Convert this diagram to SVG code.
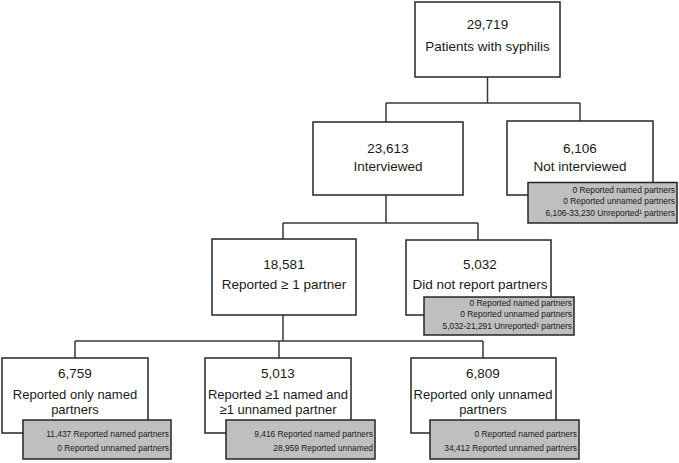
<svg xmlns="http://www.w3.org/2000/svg" width="679" height="463" viewBox="0 0 679 463">
<style>
.box{fill:#fff;stroke:#262626;stroke-width:1.5}
.grey{fill:#bfbfbf;stroke:#262626;stroke-width:1.5}
.ln{fill:none;stroke:#3a3a3a;stroke-width:1.5}
.t{font-family:"Liberation Sans",Arial,sans-serif;font-size:13.5px;fill:#1a1a1a;text-anchor:middle}
.b{font-size:13px}
.s{font-family:"Liberation Sans",Arial,sans-serif;font-size:8.4px;fill:#1a1a1a;text-anchor:end}
</style>
<rect width="679" height="463" fill="#fff"/>
<g id="connectors">
<path class="ln" d="M487.5,77V103M386,103H580M386,103V122M580,103V121"/>
<path class="ln" d="M386,195V223M283,223H478M283,223V239M478,223V240"/>
<path class="ln" d="M283,315V341M75,341H483M75,341V358M279,341V358M483,341V358"/>
</g>
<g id="n-total">
<rect class="box" x="415" y="2" width="145" height="75"/>
<text class="t" x="487.5" y="29">29,719</text>
<text class="t" x="487.5" y="51">Patients with syphilis</text>
</g>
<g id="n-interviewed">
<rect class="box" x="313" y="122" width="150" height="73"/>
<text class="t" x="388" y="153">23,613</text>
<text class="t" x="388" y="171">Interviewed</text>
</g>
<g id="n-not-interviewed">
<rect class="box" x="507" y="121" width="146" height="74"/>
<text class="t" x="580" y="153">6,106</text>
<text class="t" x="580" y="171">Not interviewed</text>
<rect class="grey" x="528" y="182.5" width="149" height="40.5"/>
<text class="s" x="675" y="193">0 Reported named partners</text>
<text class="s" x="675" y="204">0 Reported unnamed partners</text>
<text class="s" x="675" y="215.5">6,106-33,230 Unreported¹ partners</text>
</g>
<g id="n-reported">
<rect class="box" x="212" y="239" width="144" height="76"/>
<text class="t" x="284" y="269">18,581</text>
<text class="t" x="284" y="289">Reported ≥ 1 partner</text>
</g>
<g id="n-did-not-report">
<rect class="box" x="406" y="240" width="145" height="75"/>
<text class="t" x="480" y="269">5,032</text>
<text class="t" x="480" y="289">Did not report partners</text>
<rect class="grey" x="424" y="297" width="150" height="38"/>
<text class="s" x="572" y="305.5">0 Reported named partners</text>
<text class="s" x="572" y="317">0 Reported unnamed partners</text>
<text class="s" x="572" y="328.5">5,032-21,291 Unreported¹ partners</text>
</g>
<g id="n-only-named">
<rect class="box" x="2" y="358" width="146" height="75"/>
<text class="t" x="75" y="378">6,759</text>
<text class="t b" x="75" y="399">Reported only named</text>
<text class="t b" x="75" y="414">partners</text>
<rect class="grey" x="23" y="420" width="148" height="39"/>
<text class="s" x="169" y="436.5">11,437 Reported named partners</text>
<text class="s" x="169" y="451">0 Reported unnamed partners</text>
</g>
<g id="n-both">
<rect class="box" x="205" y="358" width="146" height="75"/>
<text class="t" x="278" y="378">5,013</text>
<text class="t b" x="278" y="399">Reported ≥1 named and</text>
<text class="t b" x="278" y="414">≥1 unnamed partner</text>
<rect class="grey" x="226" y="420" width="149" height="39"/>
<text class="s" x="373" y="436.5">9,416 Reported named partners</text>
<text class="s" x="373" y="451">28,959 Reported unnamed</text>
</g>
<g id="n-only-unnamed">
<rect class="box" x="411" y="358" width="145" height="75"/>
<text class="t" x="483" y="378">6,809</text>
<text class="t b" x="483" y="399">Reported only unnamed</text>
<text class="t b" x="483" y="414">partners</text>
<rect class="grey" x="430" y="420" width="149" height="39"/>
<text class="s" x="577" y="436.5">0 Reported named partners</text>
<text class="s" x="577" y="451">34,412 Reported unnamed partners</text>
</g>
</svg>
